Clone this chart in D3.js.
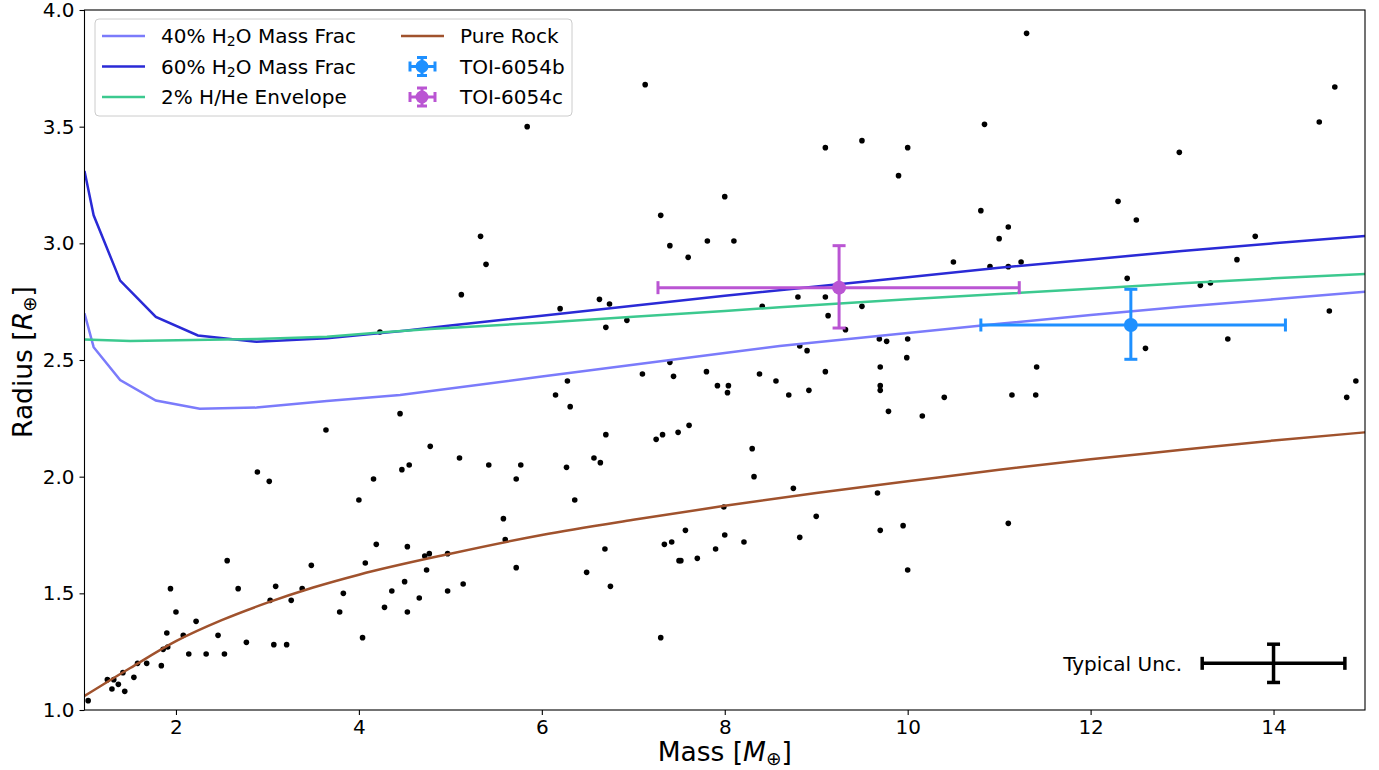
<!DOCTYPE html>
<html>
<head>
<meta charset="utf-8">
<script src="https://cdn.jsdelivr.net/npm/d3@7"></script>
<style>
  body { margin: 0; background: #fff; }
  svg { display: block; font-family: "DejaVu Sans", sans-serif; }
</style>
</head>
<body>
<div id="chart"></div>
<script>
// known planets (mass in Earth masses, radius in Earth radii)
const sampleMass = [
  1.04, 1.25, 1.30, 1.32, 1.37, 1.42, 1.44, 1.54, 1.58, 1.68, 1.84, 1.86, 1.90, 1.91, 1.94, 2.00,
  2.08, 2.14, 2.22, 2.33, 2.46, 2.53, 2.56, 2.68, 2.77, 2.89, 3.02, 3.03, 3.07, 3.09, 3.21, 3.26,
  3.38, 3.48, 3.64, 3.79, 3.83, 4.00, 4.04, 4.07, 4.16, 4.19, 4.28, 4.36, 4.45, 4.47, 4.50, 4.53,
  4.53, 4.55, 4.66, 4.72, 4.74, 4.77, 4.78, 4.97, 4.97, 5.10, 5.14, 5.42, 5.58, 5.60, 5.72, 5.77,
  5.72, 6.15, 6.28, 6.31, 6.27, 6.36, 6.57, 6.64, 6.70, 6.49, 6.69, 6.75, 7.25, 7.32, 7.49, 7.61,
  7.30, 7.34, 7.42, 7.50, 7.52, 7.57, 7.70, 7.90, 7.92, 8.04, 8.03, 7.99, 8.00, 8.21, 8.30, 8.32,
  8.56, 8.70, 8.75, 8.82, 7.13, 5.84, 5.33, 5.39, 5.12, 4.23, 6.20, 6.63, 6.74, 6.70, 6.93, 7.30,
  7.40, 7.60, 7.40, 7.10, 7.44, 11.30, 14.67, 14.50, 10.84, 9.10, 9.50, 10.00, 9.90, 12.97, 8.00,
  10.80, 12.30, 12.50, 11.10, 11.00, 7.81, 8.10, 13.80, 10.50, 10.90, 11.10, 11.24, 13.60, 12.40,
  13.20, 13.31, 8.80, 9.10, 8.41, 9.50, 9.13, 9.32, 14.61, 9.69, 9.77, 10.00, 9.99, 8.82, 8.90,
  13.50, 12.60, 7.80, 8.38, 9.10, 9.70, 11.41, 8.92, 9.70, 9.70, 10.40, 11.14, 11.40, 14.90, 14.80,
  9.79, 10.16, 9.00, 9.67, 9.70, 9.95, 10.00, 11.10
];
const sampleRadius = [
  1.04, 1.13, 1.09, 1.13, 1.11, 1.16, 1.08, 1.14, 1.20, 1.20, 1.19, 1.26, 1.33, 1.27, 1.52, 1.42,
  1.32, 1.24, 1.38, 1.24, 1.32, 1.24, 1.64, 1.52, 1.29, 2.02, 1.98, 1.47, 1.28, 1.53, 1.28, 1.47,
  1.52, 1.62, 2.20, 1.42, 1.50, 1.90, 1.31, 1.63, 1.99, 1.71, 1.44, 1.51, 2.27, 2.03, 1.55, 1.70,
  1.42, 2.05, 1.48, 1.66, 1.60, 1.67, 2.13, 1.67, 1.51, 2.08, 1.54, 2.05, 1.82, 1.73, 1.99, 2.05,
  1.61, 2.35, 2.41, 2.30, 2.04, 1.90, 2.08, 2.06, 2.18, 1.59, 1.69, 1.53, 2.16, 2.18, 2.19, 2.22,
  1.31, 1.71, 1.72, 1.64, 1.64, 1.77, 1.65, 1.69, 2.39, 2.39, 2.36, 1.87, 1.75, 1.72, 2.12, 2.00,
  2.41, 2.35, 1.95, 1.74, 3.68, 3.50, 3.03, 2.91, 2.78, 2.62, 2.72, 2.76, 2.74, 2.64, 2.67, 3.12,
  2.99, 2.94, 2.49, 2.44, 2.43, 3.90, 3.67, 3.52, 3.51, 3.41, 3.44, 3.41, 3.29, 3.39, 3.20,
  3.14, 3.18, 3.10, 3.07, 3.02, 3.01, 3.01, 3.03, 2.92, 2.90, 2.90, 2.92, 2.93, 2.85,
  2.82, 2.83, 2.77, 2.77, 2.73, 2.73, 2.69, 2.63, 2.71, 2.59, 2.58, 2.59, 2.51, 2.56, 2.54,
  2.59, 2.55, 2.45, 2.44, 2.45, 2.47, 2.47, 2.37, 2.39, 2.37, 2.34, 2.35, 2.35, 2.41, 2.34,
  2.28, 2.26, 1.83, 1.93, 1.77, 1.79, 1.60, 1.80
];

// composition models
const h2o40Mass = [1.0, 1.1, 1.39, 1.78, 2.26, 2.88, 3.65, 4.45, 6, 7, 8, 8.6, 10, 11, 12, 13, 14, 15];
const h2o40Radius = [2.70, 2.555, 2.414, 2.326, 2.291, 2.296, 2.324, 2.35, 2.429, 2.48, 2.53, 2.56, 2.616, 2.655, 2.693, 2.728, 2.76, 2.793];
const h2o60Mass = [1.0, 1.1, 1.39, 1.78, 2.24, 2.88, 3.65, 4.5, 5, 6, 7, 8, 9, 10, 11, 12, 13, 14, 15];
const h2o60Radius = [3.31, 3.12, 2.84, 2.685, 2.605, 2.578, 2.593, 2.625, 2.648, 2.69, 2.733, 2.775, 2.815, 2.855, 2.895, 2.931, 2.967, 3.0, 3.031];
const hheMass = [1.0, 1.5, 2.88, 3.65, 4.23, 4.78, 6, 7, 8, 8.6, 10, 11, 12, 13, 14, 15];
const hheRadius = [2.588, 2.581, 2.59, 2.60, 2.618, 2.633, 2.66, 2.685, 2.71, 2.726, 2.76, 2.783, 2.805, 2.829, 2.85, 2.869];
const rockMass = [1, 1.5, 2, 2.5, 3, 3.5, 4, 5, 6, 7, 8, 9, 10, 11, 12, 13, 14, 15];
const rockRadius = [1.06, 1.18, 1.295, 1.385, 1.46, 1.525, 1.58, 1.67, 1.75, 1.815, 1.875, 1.93, 1.98, 2.03, 2.075, 2.115, 2.155, 2.19];

// TOI-6054 planets
const planetNames = ['TOI-6054b', 'TOI-6054c'];
const planetMass = [12.44, 9.25];
const planetMassLo = [1.64, 1.98];
const planetMassHi = [1.69, 1.97];
const planetRadius = [2.65, 2.81];
const planetRadiusLo = [0.147, 0.173];
const planetRadiusHi = [0.153, 0.18];
const planetColors = ['#1e90ff', '#ba55d3'];

// typical uncertainty marker
const typMass = 14.0, typRadius = 1.2, typMassErr = 0.78, typRadiusErr = 0.082;

const xTicks = [2, 4, 6, 8, 10, 12, 14];
const yTicks = [1.0, 1.5, 2.0, 2.5, 3.0, 3.5, 4.0];

const width = 1379, height = 770;
const margin = { top: 10, right: 14, bottom: 60, left: 84.5 };
const innerW = width - margin.left - margin.right;
const innerH = height - margin.top - margin.bottom;
const fontSize = '20px';

const svg = d3.select('#chart').append('svg')
  .attr('width', width)
  .attr('height', height);

const x = d3.scaleLinear().domain([1, 15]).range([0, innerW]);
const y = d3.scaleLinear().domain([1, 4]).range([innerH, 0]);

const g = svg.append('g').attr('transform', `translate(${margin.left},${margin.top})`);

g.append('clipPath').attr('id', 'clip')
  .append('rect').attr('width', innerW).attr('height', innerH);

const plot = g.append('g').attr('clip-path', 'url(#clip)');

// scatter
plot.selectAll('circle.sample')
  .data(d3.range(sampleMass.length))
  .enter().append('circle')
  .attr('class', 'sample')
  .attr('cx', i => x(sampleMass[i]))
  .attr('cy', i => y(sampleRadius[i]))
  .attr('r', 2.8)
  .attr('fill', '#000');

// model curves
const curves = [
  { m: h2o40Mass, r: h2o40Radius, color: '#7b7bfb', curve: d3.curveLinear },
  { m: h2o60Mass, r: h2o60Radius, color: '#2a2ad6', curve: d3.curveLinear },
  { m: hheMass, r: hheRadius, color: '#3cc98f', curve: d3.curveLinear },
  { m: rockMass, r: rockRadius, color: '#a0522d', curve: d3.curveMonotoneX }
];
curves.forEach(c => {
  const line = d3.line()
    .x(i => x(c.m[i]))
    .y(i => y(c.r[i]))
    .curve(c.curve);
  plot.append('path')
    .datum(d3.range(c.m.length))
    .attr('d', line)
    .attr('fill', 'none')
    .attr('stroke', c.color)
    .attr('stroke-width', 2.5);
});

function errorBar(parent, cx, cy, x0, x1, y0, y1, color, lw, cap, r) {
  const eg = parent.append('g').attr('stroke', color).attr('stroke-width', lw).attr('fill', 'none');
  eg.append('line').attr('x1', x0).attr('x2', x1).attr('y1', cy).attr('y2', cy);
  eg.append('line').attr('x1', cx).attr('x2', cx).attr('y1', y0).attr('y2', y1);
  [x0, x1].forEach(xx => eg.append('line').attr('x1', xx).attr('x2', xx).attr('y1', cy - cap).attr('y2', cy + cap));
  [y0, y1].forEach(yy => eg.append('line').attr('x1', cx - cap).attr('x2', cx + cap).attr('y1', yy).attr('y2', yy));
  if (r > 0) parent.append('circle').attr('cx', cx).attr('cy', cy).attr('r', r).attr('fill', color);
}

planetNames.forEach((name, i) => {
  errorBar(g, x(planetMass[i]), y(planetRadius[i]),
    x(planetMass[i] - planetMassLo[i]), x(planetMass[i] + planetMassHi[i]),
    y(planetRadius[i] + planetRadiusHi[i]), y(planetRadius[i] - planetRadiusLo[i]),
    planetColors[i], 3, 6.5, 7);
});

// typical uncertainty
errorBar(g, x(typMass), y(typRadius),
  x(typMass - typMassErr), x(typMass + typMassErr),
  y(typRadius + typRadiusErr), y(typRadius - typRadiusErr),
  '#000', 3.5, 6.5, 0);
g.append('text')
  .attr('x', x(typMass - typMassErr) - 20)
  .attr('y', y(typRadius))
  .attr('dy', '0.36em')
  .attr('text-anchor', 'end')
  .style('font-size', fontSize)
  .text('Typical Unc.');

// axes
const xAxis = g.append('g')
  .attr('transform', `translate(0,${innerH})`)
  .call(d3.axisBottom(x).tickValues(xTicks).tickSize(5).tickPadding(5).tickFormat(d3.format('d')));
const yAxis = g.append('g')
  .call(d3.axisLeft(y).tickValues(yTicks).tickSize(5).tickPadding(5).tickFormat(d3.format('.1f')));
[xAxis, yAxis].forEach(a => {
  a.select('.domain').remove();
  a.selectAll('text').style('font-size', fontSize).style('font-family', '"DejaVu Sans", sans-serif').attr('fill', '#000');
  a.selectAll('line').attr('stroke', '#000').attr('stroke-width', 1.1);
});

g.append('rect')
  .attr('width', innerW).attr('height', innerH)
  .attr('fill', 'none').attr('stroke', '#000').attr('stroke-width', 1.1);

// axis labels with math subscripts
function mathLabel(sel, before, sym, after) {
  sel.append('tspan').text(before);
  sel.append('tspan').style('font-style', 'italic').text(sym);
  sel.append('tspan').attr('dy', '0.22em').style('font-size', '0.7em').text('\u2295');
  sel.append('tspan').attr('dy', '-0.154em').text(after);
}
const xl = svg.append('text')
  .attr('x', margin.left + innerW / 2)
  .attr('y', 761)
  .attr('text-anchor', 'middle')
  .style('font-size', '26.5px');
mathLabel(xl, 'Mass [', 'M', ']');

const yl = svg.append('text')
  .attr('transform', 'translate(32,362) rotate(-90)')
  .attr('text-anchor', 'middle')
  .style('font-size', '26.5px');
mathLabel(yl, 'Radius [', 'R', ']');

// legend
const legend = g.append('g').attr('transform', `translate(${95 - margin.left},${19 - margin.top})`);
legend.append('rect')
  .attr('width', 477).attr('height', 97).attr('rx', 4)
  .attr('fill', '#fff').attr('fill-opacity', 0.8)
  .attr('stroke', '#cccccc').attr('stroke-width', 1);

const legendRows = [17, 47.5, 78];
const legendItems = [
  { col: 0, row: 0, color: curves[0].color, label: ['40% H', '2', 'O Mass Frac'] },
  { col: 0, row: 1, color: curves[1].color, label: ['60% H', '2', 'O Mass Frac'] },
  { col: 0, row: 2, color: curves[2].color, label: ['2% H/He Envelope'] },
  { col: 1, row: 0, color: curves[3].color, label: ['Pure Rock'] },
  { col: 1, row: 1, color: planetColors[0], label: [planetNames[0]], err: true },
  { col: 1, row: 2, color: planetColors[1], label: [planetNames[1]], err: true }
];
const colX = [7, 306];
legendItems.forEach(it => {
  const lx = colX[it.col], ly = legendRows[it.row];
  if (it.err) {
    errorBar(legend, lx + 21, ly, lx + 9, lx + 34, ly - 9, ly + 9, it.color, 3, 5, 6.5);
  } else {
    legend.append('line')
      .attr('x1', lx).attr('x2', lx + 43).attr('y1', ly).attr('y2', ly)
      .attr('stroke', it.color).attr('stroke-width', 2.5);
  }
  const t = legend.append('text')
    .attr('x', lx + 59).attr('y', ly).attr('dy', '0.36em')
    .style('font-size', fontSize);
  if (it.label.length === 3) {
    t.append('tspan').text(it.label[0]);
    t.append('tspan').attr('dy', '0.22em').style('font-size', '0.7em').text(it.label[1]);
    t.append('tspan').attr('dy', '-0.154em').text(it.label[2]);
  } else {
    t.text(it.label[0]);
  }
});
</script>
</body>
</html>
